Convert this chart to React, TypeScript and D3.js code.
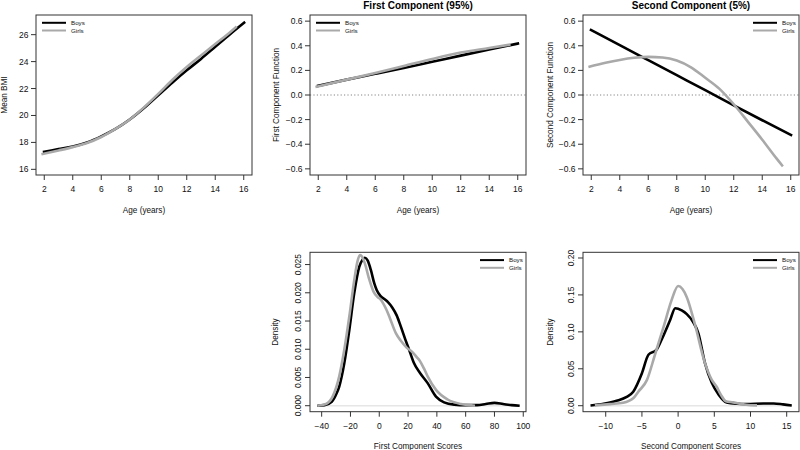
import React from 'react';
import * as d3 from 'd3';

// ---------- DATA ----------
const bmiBoysAge = [1.9, 3, 4, 5, 6, 7, 8, 9, 10, 11, 12, 13, 14, 15, 16.1];
const bmiBoys = [17.28, 17.5, 17.7, 18.0, 18.45, 19.0, 19.7, 20.55, 21.5, 22.45, 23.35, 24.2, 25.1, 26.0, 26.95];
const bmiGirlsAge = [1.8, 3, 4, 5, 6, 7, 8, 9, 10, 11, 12, 13, 14, 15, 15.5];
const bmiGirls = [17.12, 17.4, 17.65, 17.95, 18.4, 19.0, 19.7, 20.6, 21.6, 22.65, 23.6, 24.45, 25.3, 26.15, 26.6];

const pc1BoysAge = [1.9, 4, 6, 8, 10, 12, 14, 16.1];
const pc1Boys = [0.072, 0.125, 0.172, 0.22, 0.27, 0.32, 0.37, 0.42];
const pc1GirlsAge = [1.8, 4, 6, 8, 10, 12, 14, 15.5];
const pc1Girls = [0.065, 0.125, 0.178, 0.235, 0.293, 0.345, 0.382, 0.41];

const pc2BoysAge = [1.9, 4, 6, 8, 10, 12, 14, 16.1];
const pc2Boys = [0.533, 0.405, 0.283, 0.161, 0.039, -0.084, -0.205, -0.33];
const pc2GirlsAge = [1.8, 3, 4, 5, 6, 7, 8, 9, 10, 11, 12, 13, 14, 15, 15.45];
const pc2Girls = [0.228, 0.262, 0.285, 0.302, 0.31, 0.305, 0.28, 0.225, 0.14, 0.05, -0.075, -0.218, -0.363, -0.515, -0.58];

const s1BoysX = [-43, -38, -33, -29.6, -27.8, -24.3, -20.8, -17.4, -13.9, -11.5, -10, -8, -5.8, -3.5, -1.8, 1, 4, 6.2, 9, 12.1, 15, 18, 21.3, 24, 28.3, 33.6, 39.4, 45, 52, 60, 68, 74, 80, 86, 92, 97.5];
const s1Boys = [0, 0.0001, 0.0007, 0.0022, 0.0034, 0.0075, 0.0134, 0.0199, 0.0246, 0.0259, 0.0262, 0.0257, 0.024, 0.0217, 0.0205, 0.0194, 0.0188, 0.0183, 0.0174, 0.016, 0.014, 0.0118, 0.0095, 0.0076, 0.0058, 0.004, 0.0016, 0.0006, 0.0002, 0.0001, 0.0001, 0.0003, 0.0005, 0.0003, 0.0001, 0];
const s1GirlsX = [-43, -37, -32.4, -27.8, -24.3, -20.8, -17.4, -15, -13.3, -11.5, -10, -7, -4, -1, 1, 3, 5, 7.4, 11.6, 15, 19, 23, 26, 28, 31, 33.6, 39.4, 47.5, 56.7, 62, 66.5];
const s1Girls = [0, 0.0003, 0.0016, 0.0052, 0.0099, 0.0158, 0.0222, 0.0257, 0.0267, 0.0262, 0.0252, 0.0224, 0.0202, 0.0192, 0.0188, 0.018, 0.017, 0.0155, 0.0128, 0.0115, 0.0103, 0.0095, 0.0086, 0.008, 0.0066, 0.0052, 0.0028, 0.0011, 0.0003, 0.0001, 0];

const s2BoysX = [-12.1, -10.3, -8.5, -7.1, -6.2, -5.0, -4.1, -3.0, -2.3, -1.1, -0.4, 0.5, 1.2, 2.1, 2.8, 3.7, 4.65, 5.6, 6.7, 8.1, 9.5, 11.8, 13.2, 14.5, 15.7];
const s2Boys = [0.0004, 0.0027, 0.0067, 0.012, 0.019, 0.044, 0.069, 0.0755, 0.089, 0.116, 0.132, 0.129, 0.124, 0.113, 0.098, 0.058, 0.031, 0.015, 0.0045, 0.0027, 0.0022, 0.003, 0.003, 0.0018, 0.0004];
const s2GirlsX = [-11.5, -9.4, -7.6, -6.2, -5.5, -4.3, -3.2, -2.0, -0.9, 0, 0.6, 1.2, 2.3, 3.7, 4.65, 5.3, 5.9, 6.6, 7.6, 8.5, 9.4, 10.9];
const s2Girls = [0.0004, 0.0022, 0.004, 0.01, 0.019, 0.035, 0.069, 0.107, 0.143, 0.162, 0.158, 0.147, 0.111, 0.058, 0.035, 0.026, 0.015, 0.006, 0.0045, 0.0027, 0.0013, 0.0004];

const ageTicks = [2, 4, 6, 8, 10, 12, 14, 16];
const bmiTicks = [16, 18, 20, 22, 24, 26];
const compTicks = [-0.6, -0.4, -0.2, 0, 0.2, 0.4, 0.6];
const s1Ticks = [-40, -20, 0, 20, 40, 60, 80, 100];
const d1Ticks = [0, 0.005, 0.01, 0.015, 0.02, 0.025];
const s2Ticks = [-10, -5, 0, 5, 10, 15];
const d2Ticks = [0, 0.05, 0.1, 0.15, 0.2];
const legendLabels = ['Boys', 'Girls'];

const BOYS = '#000000';
const GIRLS = '#a9a9a9';
const FONT = "'Liberation Sans', Arial, Helvetica, sans-serif";

type Box = { x0: number; x1: number; y0: number; y1: number };
type Series = { xs: number[]; ys: number[]; color: string };

const minus = (s: string) => s.replace('-', '\u2212');

function Panel(props: {
  box: Box;
  xDomain: [number, number];
  yDomain: [number, number];
  xTicks: number[];
  yTicks: number[];
  yFmt: (v: number) => string;
  yRot?: boolean;
  series: Series[];
  legendSide: 'left' | 'right';
  zeroDotted?: boolean;
  baseline?: [number, number];
  title?: string;
  xLabel: string;
  yLabel: string;
  yLabelX: number;
}) {
  const { box, xDomain, yDomain, xTicks, yTicks, yFmt, yRot, series, legendSide, zeroDotted, baseline, title, xLabel, yLabel, yLabelX } = props;
  const x = d3.scaleLinear().domain(xDomain).range([box.x0, box.x1]);
  const y = d3.scaleLinear().domain(yDomain).range([box.y1, box.y0]);
  const line = d3
    .line<[number, number]>()
    .x((d) => x(d[0]))
    .y((d) => y(d[1]))
    .curve(d3.curveMonotoneX);
  const cx = (box.x0 + box.x1) / 2;
  const cy = (box.y0 + box.y1) / 2;
  const axisCol = '#333';
  const lgX0 = legendSide === 'left' ? box.x0 + 6 : box.x1 - 46;
  return (
    <g>
      {baseline && (
        <line x1={x(baseline[0])} x2={x(baseline[1])} y1={y(0)} y2={y(0)} stroke="#e6e6e6" strokeWidth={1.5} />
      )}
      {zeroDotted && (
        <line x1={box.x0} x2={box.x1} y1={y(0)} y2={y(0)} stroke="#777" strokeWidth={0.9} strokeDasharray="1.2,2.2" />
      )}
      {series.map((s, i) => (
        <path
          key={i}
          d={line(s.xs.map((v, j) => [v, s.ys[j]] as [number, number])) || ''}
          fill="none"
          stroke={s.color}
          strokeWidth={2.6}
          strokeLinejoin="round"
          strokeLinecap="butt"
        />
      ))}
      <rect x={box.x0} y={box.y0} width={box.x1 - box.x0} height={box.y1 - box.y0} fill="none" stroke={axisCol} strokeWidth={1} />
      {xTicks.map((t) => (
        <g key={'x' + t}>
          <line x1={x(t)} x2={x(t)} y1={box.y1} y2={box.y1 + 5} stroke={axisCol} strokeWidth={1} />
          <text x={x(t)} y={box.y1 + 17} textAnchor="middle" fontSize={8.5} fill="#111">
            {minus(String(t))}
          </text>
        </g>
      ))}
      {yTicks.map((t) => (
        <g key={'y' + t}>
          <line x1={box.x0 - 5} x2={box.x0} y1={y(t)} y2={y(t)} stroke={axisCol} strokeWidth={1} />
          {yRot ? (
            <text
              transform={`translate(${box.x0 - 12},${y(t)}) rotate(-90)`}
              textAnchor="middle"
              dominantBaseline="central"
              fontSize={8.5}
              fill="#111"
            >
              {yFmt(t)}
            </text>
          ) : (
            <text x={box.x0 - 7.5} y={y(t)} dy="0.35em" textAnchor="end" fontSize={8.5} fill="#111">
              {minus(yFmt(t))}
            </text>
          )}
        </g>
      ))}
      {legendLabels.map((lab, i) => {
        const ly = box.y0 + 7.8 + i * 7.7;
        return (
          <g key={lab}>
            <line x1={lgX0} x2={lgX0 + 24} y1={ly} y2={ly} stroke={i === 0 ? BOYS : GIRLS} strokeWidth={2} />
            <text x={lgX0 + 29} y={ly} dy="0.35em" fontSize={6.2} fill="#111">
              {lab}
            </text>
          </g>
        );
      })}
      {title && (
        <text x={cx} y={8.8} textAnchor="middle" fontSize={10} fontWeight="bold" fill="#000">
          {title}
        </text>
      )}
      <text x={cx} y={box.y1 + 37.5} textAnchor="middle" fontSize={8.2} fill="#111">
        {xLabel}
      </text>
      <text
        transform={`translate(${yLabelX},${cy}) rotate(-90)`}
        textAnchor="middle"
        dominantBaseline="central"
        fontSize={8.2}
        fill="#111"
      >
        {yLabel}
      </text>
    </g>
  );
}

export default function App() {
  const ageDomain: [number, number] = [1.42, 16.58];
  const compDomain: [number, number] = [-0.65, 0.65];
  return (
    <svg
      width={800}
      height={450}
      viewBox="0 0 800 450"
      style={{ position: 'absolute', left: 0, top: 0, background: '#fff', fontFamily: FONT }}
    >
      <rect x={0} y={0} width={800} height={450} fill="#fff" />
      <Panel
        box={{ x0: 36, x1: 252, y0: 15, y1: 175 }}
        xDomain={ageDomain}
        yDomain={[15.58, 27.46]}
        xTicks={ageTicks}
        yTicks={bmiTicks}
        yFmt={(v) => String(v)}
        series={[
          { xs: bmiBoysAge, ys: bmiBoys, color: BOYS },
          { xs: bmiGirlsAge, ys: bmiGirls, color: GIRLS },
        ]}
        legendSide="left"
        xLabel="Age (years)"
        yLabel="Mean BMI"
        yLabelX={4}
      />
      <Panel
        box={{ x0: 310, x1: 526, y0: 15, y1: 175 }}
        xDomain={ageDomain}
        yDomain={compDomain}
        xTicks={ageTicks}
        yTicks={compTicks}
        yFmt={(v) => v.toFixed(1)}
        series={[
          { xs: pc1BoysAge, ys: pc1Boys, color: BOYS },
          { xs: pc1GirlsAge, ys: pc1Girls, color: GIRLS },
        ]}
        legendSide="left"
        zeroDotted
        title="First Component (95%)"
        xLabel="Age (years)"
        yLabel="First Component Function"
        yLabelX={276}
      />
      <Panel
        box={{ x0: 583, x1: 799, y0: 15, y1: 175 }}
        xDomain={ageDomain}
        yDomain={compDomain}
        xTicks={ageTicks}
        yTicks={compTicks}
        yFmt={(v) => v.toFixed(1)}
        series={[
          { xs: pc2BoysAge, ys: pc2Boys, color: BOYS },
          { xs: pc2GirlsAge, ys: pc2Girls, color: GIRLS },
        ]}
        legendSide="right"
        zeroDotted
        title="Second Component (5%)"
        xLabel="Age (years)"
        yLabel="Second Component Function"
        yLabelX={550.5}
      />
      <Panel
        box={{ x0: 310, x1: 526, y0: 252.3, y1: 411.7 }}
        xDomain={[-48.1, 101.9]}
        yDomain={[-0.00106, 0.02717]}
        xTicks={s1Ticks}
        yTicks={d1Ticks}
        yFmt={(v) => v.toFixed(3)}
        yRot
        series={[
          { xs: s1BoysX, ys: s1Boys, color: BOYS },
          { xs: s1GirlsX, ys: s1Girls, color: GIRLS },
        ]}
        legendSide="right"
        baseline={[-43, 97.5]}
        xLabel="First Component Scores"
        yLabel="Density"
        yLabelX={275}
      />
      <Panel
        box={{ x0: 583, x1: 799, y0: 252.3, y1: 411.7 }}
        xDomain={[-13.14, 16.7]}
        yDomain={[-0.0081, 0.2077]}
        xTicks={s2Ticks}
        yTicks={d2Ticks}
        yFmt={(v) => v.toFixed(2)}
        yRot
        series={[
          { xs: s2BoysX, ys: s2Boys, color: BOYS },
          { xs: s2GirlsX, ys: s2Girls, color: GIRLS },
        ]}
        legendSide="right"
        baseline={[-12.1, 15.7]}
        xLabel="Second Component Scores"
        yLabel="Density"
        yLabelX={550}
      />
    </svg>
  );
}
